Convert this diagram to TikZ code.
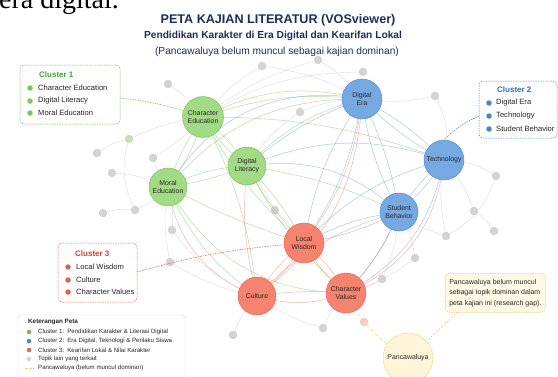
\documentclass[tikz,border=0pt]{standalone}
\usepackage{fontspec}
\setmainfont{Liberation Sans}
\newfontfamily\serifpage{Liberation Serif}
\usetikzlibrary{calc}
\definecolor{navy}{HTML}{1F2D5A}
\definecolor{gfill}{HTML}{A3DA86}
\definecolor{gline}{HTML}{6FBF4E}
\definecolor{bfill}{HTML}{76A8E2}
\definecolor{bline}{HTML}{4A86D0}
\definecolor{rfill}{HTML}{F5836F}
\definecolor{rline}{HTML}{E8604D}
\definecolor{gyfill}{HTML}{D4D4D4}
\definecolor{yfill}{HTML}{FFF6DA}
\definecolor{yline}{HTML}{F0CC6A}
\definecolor{gtxt}{HTML}{3FA535}
\definecolor{btxt}{HTML}{2E6CC0}
\definecolor{rtxt}{HTML}{D8432F}
\tikzset{
  major/.style={circle,minimum size=#1,inner sep=0pt,align=center,font=\fontsize{6.9}{7.8}\selectfont,text=black!85},
  gnode/.style={major=41pt,fill=gfill,draw=gline,line width=0.4pt},
  bnode/.style={major=40pt,fill=bfill,draw=bline,line width=0.4pt},
  rnode/.style={major=40pt,fill=rfill,draw=rline,line width=0.4pt},
  minor/.style={circle,minimum size=8pt,inner sep=0pt,fill=gyfill,draw=gray!40,line width=0.3pt},
  gedge/.style={draw=gline,opacity=0.5,line width=0.5pt},
  bedge/.style={draw=bline,opacity=0.45,line width=0.5pt},
  redge/.style={draw=rline,opacity=0.45,line width=0.5pt},
  gyedge/.style={draw=gray!45,opacity=0.6,line width=0.4pt},
  clbox/.style={rounded corners=4pt,line width=0.5pt,fill=white,dash pattern=on 1.5pt off 1pt},
  dotg/.style={circle,fill=gline!90,inner sep=0pt,minimum size=5.5pt},
  dotb/.style={circle,fill=bline,inner sep=0pt,minimum size=5.5pt},
  dotr/.style={circle,fill=rline,inner sep=0pt,minimum size=5.5pt},
  itm/.style={anchor=west,font=\fontsize{7.6}{8}\selectfont,text=black!85,inner sep=0pt},
  cltitle/.style={anchor=west,font=\bfseries\fontsize{8}{9}\selectfont,inner sep=0pt},
  litm/.style={anchor=west,font=\fontsize{6.1}{6.5}\selectfont,text=black!85,inner sep=0pt},
  ldot/.style={circle,inner sep=0pt,minimum size=4.5pt},
}
\begin{document}
\begin{tikzpicture}[x=1pt,y=-1pt]
\useasboundingbox (0,0) rectangle (558,376);
\clip (0,0) rectangle (558,376);
\fill[white] (0,0) rectangle (558,376);
% page text fragment
\node[anchor=base west,inner sep=0pt,font=\serifpage\fontsize{28}{30}\selectfont] (pagetxt) at (-1,8) {era digital.};
% titles
\node[font=\bfseries\fontsize{12.6}{14}\selectfont,text=navy] (t1) at (278,20) {PETA KAJIAN LITERATUR (VOSviewer)};
\node[font=\bfseries\fontsize{10.2}{12}\selectfont,text=navy] (t2) at (273,36) {Pendidikan Karakter di Era Digital dan Kearifan Lokal};
\node[font=\fontsize{10.2}{12}\selectfont,text=navy] (t3) at (277,52) {(Pancawaluya belum muncul sebagai kajian dominan)};

% coordinates of nodes
\coordinate (pCE) at (203,117);
\coordinate (pDL) at (247,166);
\coordinate (pME) at (168,187);
\coordinate (pDE) at (362,99);
\coordinate (pTE) at (444,160);
\coordinate (pSB) at (399,212);
\coordinate (pLW) at (304,243);
\coordinate (pCU) at (257,296);
\coordinate (pCV) at (346,293);

% minor nodes
\node[minor] (m1) at (168,84) {};
\node[minor,fill=gfill!70] (m2) at (129,139) {};
\node[minor] (m3) at (97,153) {};
\node[minor] (m4) at (153,158) {};
\node[minor] (m5) at (112,173) {};
\node[minor] (m6) at (135,210) {};
\node[minor] (m7) at (103,213) {};
\node[minor] (m8) at (172,230) {};
\node[minor] (m9) at (363,72) {};
\node[minor] (m10) at (435,96) {};
\node[minor] (m11) at (300,112) {};
\node[minor] (m12) at (496,176) {};
\node[minor] (m13) at (474,211) {};
\node[minor] (m14) at (494,231) {};
\node[minor] (m15) at (446,236) {};
\node[minor] (m16) at (415,258) {};
\node[minor] (m17) at (382,279) {};
\node[minor,fill=rfill!40] (m18) at (364,322) {};
\node[minor] (m19) at (323,328) {};
\node[minor] (m20) at (233,335) {};
\node[minor] (m21) at (262,66) {};
\node[minor] (m22) at (318,60) {};
\node[minor] (m23) at (170,262) {};
\node[minor] (m24) at (275,210) {};

% edges among majors
\path[gedge] (pCE) to[bend left=8] (pDL);
\path[gedge] (pCE) to[bend right=10] (pDL);
\path[gedge] (pCE) to[bend right=8] (pME);
\path[gedge] (pCE) to[bend left=10] (pME);
\path[gedge] (pDL) to[bend left=6] (pME);
\path[gedge] (pDL) to[bend right=12] (pME);
\path[gedge] (pCE) to[bend left=12] (pDE);
\path[gedge] (pCE) to[bend left=20] (pDE);
\path[gedge] (pCE) to[bend right=10] (pLW);
\path[gedge] (pCE) to[bend left=10] (pCU);
\path[gedge] (pDL) to[bend left=8] (pLW);
\path[gedge] (pDL) to[bend right=8] (pLW);
\path[gedge] (pME) to[bend right=15] (pCU);
\path[gedge] (pME) to[bend right=5] (pLW);
\path[gedge] (pDL) to[bend left=8] (pSB);
\path[gedge] (pCE) to[bend left=10] (pTE);
\path[gedge] (pDL) to[bend left=15] (pDE);
\path[gedge] (pME) to[bend left=25] (pDE);
\path[gedge] (pME) to[bend right=30] (pCV);
\path[gedge] (pDL) to[bend right=10] (pCV);
\path[bedge] (pDE) to[bend left=8] (pTE);
\path[bedge] (pDE) to[bend right=8] (pTE);
\path[bedge] (pDE) to[bend left=8] (pSB);
\path[bedge] (pDE) to[bend right=10] (pSB);
\path[bedge] (pTE) to[bend left=8] (pSB);
\path[bedge] (pTE) to[bend right=8] (pSB);
\path[bedge] (pDE) to[bend right=10] (pDL);
\path[bedge] (pDE) to[bend right=12] (pLW);
\path[bedge] (pDE) to[bend left=12] (pLW);
\path[bedge] (pSB) to[bend left=8] (pLW);
\path[bedge] (pSB) to[bend right=10] (pLW);
\path[bedge] (pTE) to[bend right=15] (pLW);
\path[bedge] (pTE) to[bend right=20] (pDL);
\path[bedge] (pSB) to[bend left=10] (pCV);
\path[bedge] (pSB) to[bend right=25] (pDL);
\path[bedge] (pTE) to[bend left=25] (pCV);
\path[bedge] (pDE) to[bend right=35] (pME);
\path[redge] (pLW) to[bend right=10] (pCU);
\path[redge] (pLW) to[bend left=10] (pCU);
\path[redge] (pLW) to[bend left=10] (pCV);
\path[redge] (pLW) to[bend right=10] (pCV);
\path[redge] (pCU) to[bend left=6] (pCV);
\path[redge] (pCU) to[bend right=18] (pCV);
\path[redge] (pCU) to[bend left=15] (pSB);
\path[redge] (pCV) to[bend right=10] (pSB);
\path[redge] (pCU) to[bend left=10] (pDL);
\path[redge] (pCU) to[bend left=30] (pME);
\path[redge] (pLW) to[bend right=15] (pDE);
\path[redge] (pCV) to[bend right=30] (pTE);
\path[redge] (pCU) to[bend right=25] (pDE);

% gray edges
\path[gyedge] (m1) to[bend left=10] (pCE);
\path[gyedge] (m2) to[bend left=8] (pCE);
\path[gyedge] (m3) to[bend left=10] (m2);
\path[gyedge] (m4) to[bend right=8] (pCE);
\path[gyedge] (m4) to[bend right=8] (pME);
\path[gyedge] (m5) to[bend left=10] (pME);
\path[gyedge] (m6) to[bend right=10] (pME);
\path[gyedge] (m7) to[bend left=10] (m6);
\path[gyedge] (m8) to[bend right=10] (pME);
\path[gyedge] (m8) to[bend right=15] (pCU);
\path[gyedge] (m2) to[bend right=20] (m6);
\path[gyedge] (m9) to[bend right=10] (pDE);
\path[gyedge] (m9) to[bend right=15] (pCE);
\path[gyedge] (m10) to[bend left=10] (pDE);
\path[gyedge] (m10) to[bend left=20] (pTE);
\path[gyedge] (m11) to[bend left=10] (pDE);
\path[gyedge] (m11) to[bend right=10] (pDL);
\path[gyedge] (m12) to[bend right=15] (pTE);
\path[gyedge] (m13) to[bend right=10] (pTE);
\path[gyedge] (m14) to[bend right=10] (m13);
\path[gyedge] (m15) to[bend left=10] (pTE);
\path[gyedge] (m15) to[bend left=10] (pSB);
\path[gyedge] (m15) to[bend right=20] (m12);
\path[gyedge] (m16) to[bend right=10] (pSB);
\path[gyedge] (m17) to[bend right=10] (pSB);
\path[gyedge] (m17) to[bend left=10] (pCV);
\path[gyedge] (m19) to[bend left=10] (pCV);
\path[gyedge] (m19) to[bend left=10] (pCU);
\path[gyedge] (m20) to[bend left=10] (pCU);
\path[gyedge] (m21) to[bend right=10] (pCE);
\path[gyedge] (m21) to[bend left=10] (pDE);
\path[gyedge] (m22) to[bend left=10] (pDE);
\path[gyedge] (m22) to[bend right=10] (pCE);
\path[gyedge] (m23) to[bend right=10] (pCU);
\path[gyedge] (m23) to[bend left=10] (pME);
\path[gyedge] (m24) to[bend left=5] (pLW);
\path[gyedge] (m24) to[bend right=5] (pDL);
\path[gyedge] (m16) to[bend left=10] (pCV);

% Pancawaluya
\node[circle,minimum size=50pt,inner sep=0pt,fill=yfill,draw=yline,dash pattern=on 2pt off 1pt,line width=0.5pt,font=\fontsize{6.9}{7.8}\selectfont,text=black!85] (PA) at (408,358) {Pancawaluya};
\path[draw=yline,dashed,line width=0.5pt] (pCV) to[bend right=5] (m18);
\path[draw=yline,dashed,line width=0.5pt] (m18) to[bend right=5] (PA);

% major nodes
\node[gnode] (CE) at (pCE) {Character\\Education};
\node[gnode,major=38pt] (DL) at (pDL) {Digital\\Literacy};
\node[gnode,major=38pt] (ME) at (pME) {Moral\\Education};
\node[bnode] (DE) at (pDE) {Digital\\Era};
\node[bnode] (TE) at (pTE) {Technology};
\node[bnode,major=38pt] (SB) at (pSB) {Student\\Behavior};
\node[rnode] (LW) at (pLW) {Local\\Wisdom};
\node[rnode,major=38pt] (CU) at (pCU) {Culture};
\node[rnode] (CV) at (pCV) {Character\\Values};

% Cluster 1 box
\draw[clbox,draw=gline] (20,65) rectangle (120,124);
\coordinate (c1r) at (120,98);
\node[cltitle,text=gtxt] (c1t) at (39,75) {Cluster 1};
\node[dotg] (c1d1) at (30,88) {}; \node[itm] (c1i1) at (38,88) {Character Education};
\node[dotg] (c1d2) at (30,101) {}; \node[itm] (c1i2) at (38,101) {Digital Literacy};
\node[dotg] (c1d3) at (30,113) {}; \node[itm] (c1i3) at (38,113) {Moral Education};
\draw[draw=gline,line width=0.5pt,dash pattern=on 1.5pt off 1pt] (c1r) to[bend left=5] (CE);

% Cluster 2 box
\draw[clbox,draw=bline] (479,81) rectangle (557,138);
\coordinate (c2l) at (479,116);
\node[cltitle,text=btxt] (c2t) at (497,90) {Cluster 2};
\node[dotb] (c2d1) at (489,103) {}; \node[itm] (c2i1) at (496,103) {Digital Era};
\node[dotb] (c2d2) at (489,116) {}; \node[itm] (c2i2) at (496,116) {Technology};
\node[dotb] (c2d3) at (489,129) {}; \node[itm] (c2i3) at (496,129) {Student Behavior};
\draw[draw=bline,line width=0.5pt,dash pattern=on 1.5pt off 1pt] (c2l) to[bend right=10] (TE.north);

% Cluster 3 box
\draw[clbox,draw=rline] (58,243) rectangle (137,302);
\coordinate (c3r) at (137,272);
\node[cltitle,text=rtxt] (c3t) at (75,254) {Cluster 3};
\node[dotr] (c3d1) at (68,267) {}; \node[itm] (c3i1) at (76,267) {Local Wisdom};
\node[dotr] (c3d2) at (68,280) {}; \node[itm] (c3i2) at (76,280) {Culture};
\node[dotr] (c3d3) at (68,292) {}; \node[itm] (c3i3) at (76,292) {Character Values};
\draw[draw=rline,line width=0.5pt,dash pattern=on 1.5pt off 1pt] (c3r) to[bend left=5] (LW);

% Legend box
\draw[rounded corners=3pt,draw=gray!30,fill=white,line width=0.4pt] (18,315) rectangle (185,380);
\node[anchor=west,font=\bfseries\fontsize{6.3}{7}\selectfont,inner sep=0pt,text=black!85] (lt) at (28,322) {Keterangan Peta};
\node[ldot,fill=gline] (ld1) at (29,332) {}; \node[litm] (li1) at (38,332) {Cluster 1:\enspace Pendidikan Karakter \& Literasi Digital};
\node[ldot,fill=bline] (ld2) at (29,341) {}; \node[litm] (li2) at (38,341) {Cluster 2:\enspace Era Digital, Teknologi \& Perilaku Siswa};
\node[ldot,fill=rline] (ld3) at (29,350) {}; \node[litm] (li3) at (38,350) {Cluster 3:\enspace Kearifan Lokal \& Nilai Karakter};
\node[ldot,fill=gyfill] (ld4) at (29,359) {}; \node[litm] (li4) at (38,359) {Topik lain yang terkait};
\coordinate (ly1) at (25,368); \coordinate (ly2) at (35,368);
\draw[draw=yline,line width=0.6pt,dash pattern=on 1.5pt off 1pt] (ly1) -- (ly2);
\node[litm] (li5) at (38,368) {Pancawaluya (belum muncul dominan)};

% Note box
\node[draw=yline,fill=yfill!70,rounded corners=4pt,line width=0.5pt,dash pattern=on 1.5pt off 1pt,align=left,font=\fontsize{7}{10.5}\selectfont,inner xsep=4pt,inner ysep=3pt,anchor=north west,minimum width=89pt,minimum height=39pt,text=black!85] (note) at (445,273) {Pancawaluya belum muncul\\sebagai topik dominan dalam\\peta kajian ini (research gap).};
\coordinate (nbl) at (458,312);
\draw[draw=yline,line width=0.6pt,dash pattern=on 2pt off 1.5pt] (nbl) -- (PA);
\end{tikzpicture}
\end{document}
